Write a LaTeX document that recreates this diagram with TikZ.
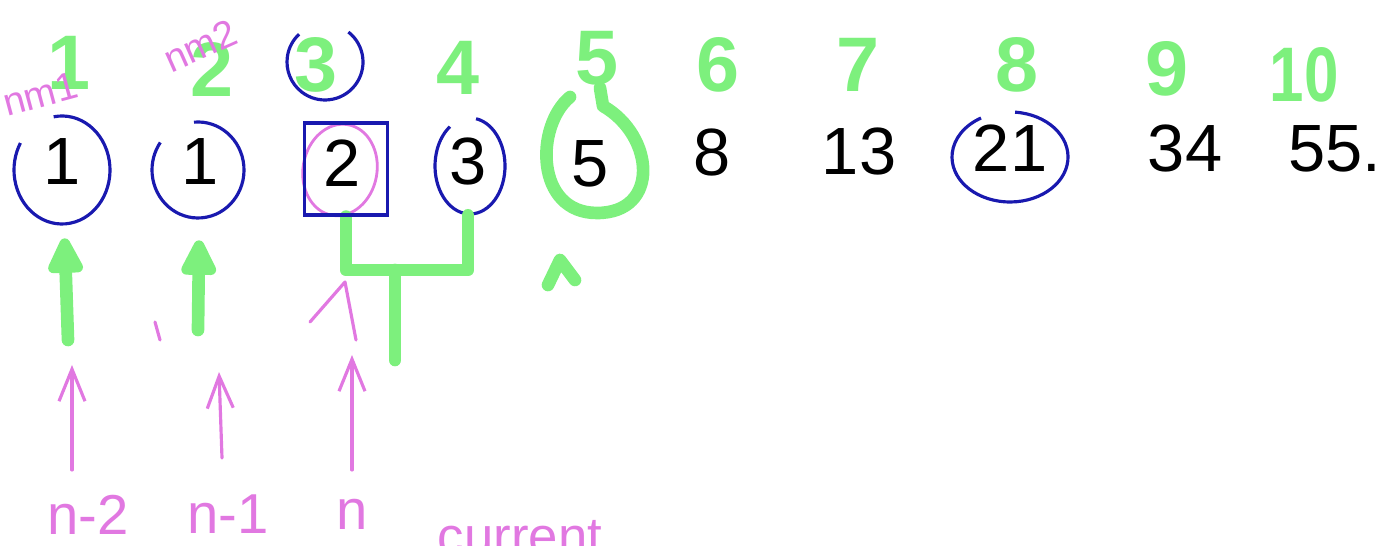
\documentclass[tikz,border=0pt]{standalone}
\usepackage{fontspec}
\setmainfont{Liberation Sans}
\usetikzlibrary{arrows.meta}
\definecolor{penBlue}{RGB}{25,25,175}
\definecolor{penGreen}{RGB}{125,240,125}
\definecolor{penPink}{RGB}{225,120,225}
\tikzset{
    NUM/.style={inner sep=0mm, text height=14pt, text depth=0pt,
        font={\fontsize{19}{19}\selectfont}, text=black},
    GREEN_IDX/.style={inner sep=0mm, font={\fontsize{22}{22}\selectfont\bfseries},
        text=penGreen},
    PINK_TEXT/.style={inner sep=0mm, font={\fontsize{16}{16}\selectfont}, text=penPink},
    SMALL_PINK_TEXT/.style={PINK_TEXT, font={\fontsize{11}{11}\selectfont}},
    BLUE_RING/.style={draw=penBlue, line width=0.9pt},
    BLUE_BOX/.style={draw=penBlue, line width=0.9pt, shape=rectangle, inner sep=0mm},
    PINK_RING/.style={draw=penPink, line width=0.8pt},
    GREEN_EDGE/.style={draw=penGreen, line width=3.6pt, line cap=round, line join=round},
    GREEN_ARROW/.style={GREEN_EDGE, -{Triangle[length=4.2mm, width=3.8mm, round]}},
    PINK_EDGE/.style={draw=penPink, line width=0.9pt, line cap=round, line join=round},
    PINK_ARROW/.style={PINK_EDGE, -{Straight Barb[length=3.2mm, width=2.6mm]}}
}
\pgfdeclarelayer{edgelayer}
\pgfdeclarelayer{nodelayer}
\pgfsetlayers{edgelayer,nodelayer,main}

\begin{document}
\begin{tikzpicture}[x=0.01cm, y=0.01cm]
    \useasboundingbox (0, 0) rectangle (1392, 546);
    \begin{pgfonlayer}{nodelayer}
        % the sequence
        \node [NUM] (1) at (62, 386) {1};
        \node [NUM] (2) at (200, 386) {1};
        \node [NUM] (3) at (342, 384) {2};
        \node [NUM] (4) at (468, 386) {3};
        \node [NUM] (5) at (590, 384) {5};
        \node [NUM] (6) at (712, 395) {8};
        \node [NUM] (7) at (859, 396) {13};
        \node [NUM] (8) at (1010, 399) {21};
        \node [NUM] (9) at (1185, 399) {34};
        \node [NUM] (10) at (1335, 399) {55.};
        % positions
        \node [GREEN_IDX] (11) at (69, 483) {1};
        \node [GREEN_IDX] (12) at (212, 476) {2};
        \node [GREEN_IDX] (13) at (316, 481) {3};
        \node [GREEN_IDX] (14) at (458, 478) {4};
        \node [GREEN_IDX] (15) at (597, 488) {5};
        \node [GREEN_IDX] (16) at (718, 481) {6};
        \node [GREEN_IDX] (17) at (858, 481) {7};
        \node [GREEN_IDX] (18) at (1017, 481) {8};
        \node [GREEN_IDX] (19) at (1167, 477) {9};
        \node [GREEN_IDX, xscale=0.8] (20) at (1304, 471) {10};
        % pink notes
        \node [SMALL_PINK_TEXT, rotate=15] (21) at (40, 452) {nm1};
        \node [SMALL_PINK_TEXT, rotate=24] (22) at (200, 500) {nm2};
        \node [PINK_TEXT] (23) at (88, 31) {n-2};
        \node [PINK_TEXT] (24) at (228, 32) {n-1};
        \node [PINK_TEXT] (25) at (352, 32) {n};
        \node [PINK_TEXT, anchor=base, font={\fontsize{15}{15}\selectfont}] (26) at (520, -9) {current};
        \node [BLUE_BOX, minimum width=0.83cm, minimum height=0.92cm] (33) at (346, 377) {};
        \coordinate (31) at (68, 206);
        \coordinate (32) at (198, 216);
        \coordinate (34) at (395, 276);
        \coordinate (36) at (395, 186);
        \coordinate (41) at (72, 76);
        \coordinate (42) at (72, 181);
        \coordinate (43) at (222, 88);
        \coordinate (44) at (219, 174);
        \coordinate (45) at (352, 76);
        \coordinate (46) at (352, 191);
    \end{pgfonlayer}
    \begin{pgfonlayer}{edgelayer}
        \draw[BLUE_RING] (62, 376) ++(100:48 and 54) arc[start angle=100, end angle=-210, x radius=48, y radius=54];
        \draw[BLUE_RING] (198, 376) ++(95:46 and 48) arc[start angle=95, end angle=-215, x radius=46, y radius=48];
        \draw[BLUE_RING] (470, 380) ++(80:35 and 48) arc[start angle=80, end angle=-235, x radius=35, y radius=48];
        \draw[BLUE_RING] (1010, 389) ++(85:58 and 45) arc[start angle=85, end angle=-240, x radius=58, y radius=45];
        \draw[BLUE_RING] (325, 484) ++(52:38 and 38) arc[start angle=52, end angle=-227, x radius=38, y radius=38];
        \draw[PINK_RING, rotate around={-10:(340, 376)}] (340, 376) ellipse[x radius=37, y radius=46];
        \draw[GREEN_EDGE] (570, 449) .. controls (535, 420) and (535, 333) .. (597, 333)
            .. controls (660, 333) and (655, 410) .. (603, 440) -- (600, 458);
        \draw[GREEN_EDGE] (548, 261) -- (560, 286) -- (575, 266);
        \draw[GREEN_ARROW, shorten >=0.53cm] (31) to (1);
        \draw[GREEN_ARROW, shorten >=0.55cm] (32) to (2);
        \draw[GREEN_EDGE, shorten >=0.3cm] (33.south) |- (34) -| (4);
        \draw[GREEN_EDGE] (34) to (36);
        \draw[PINK_ARROW] (41) to (42);
        \draw[PINK_ARROW] (43) to (44);
        \draw[PINK_ARROW] (45) to (46);
        \draw[PINK_EDGE] (310, 224) -- (345, 264) -- (356, 206);
        \draw[PINK_EDGE] (155, 224) -- (160, 206);
    \end{pgfonlayer}
\end{tikzpicture}
\end{document}
